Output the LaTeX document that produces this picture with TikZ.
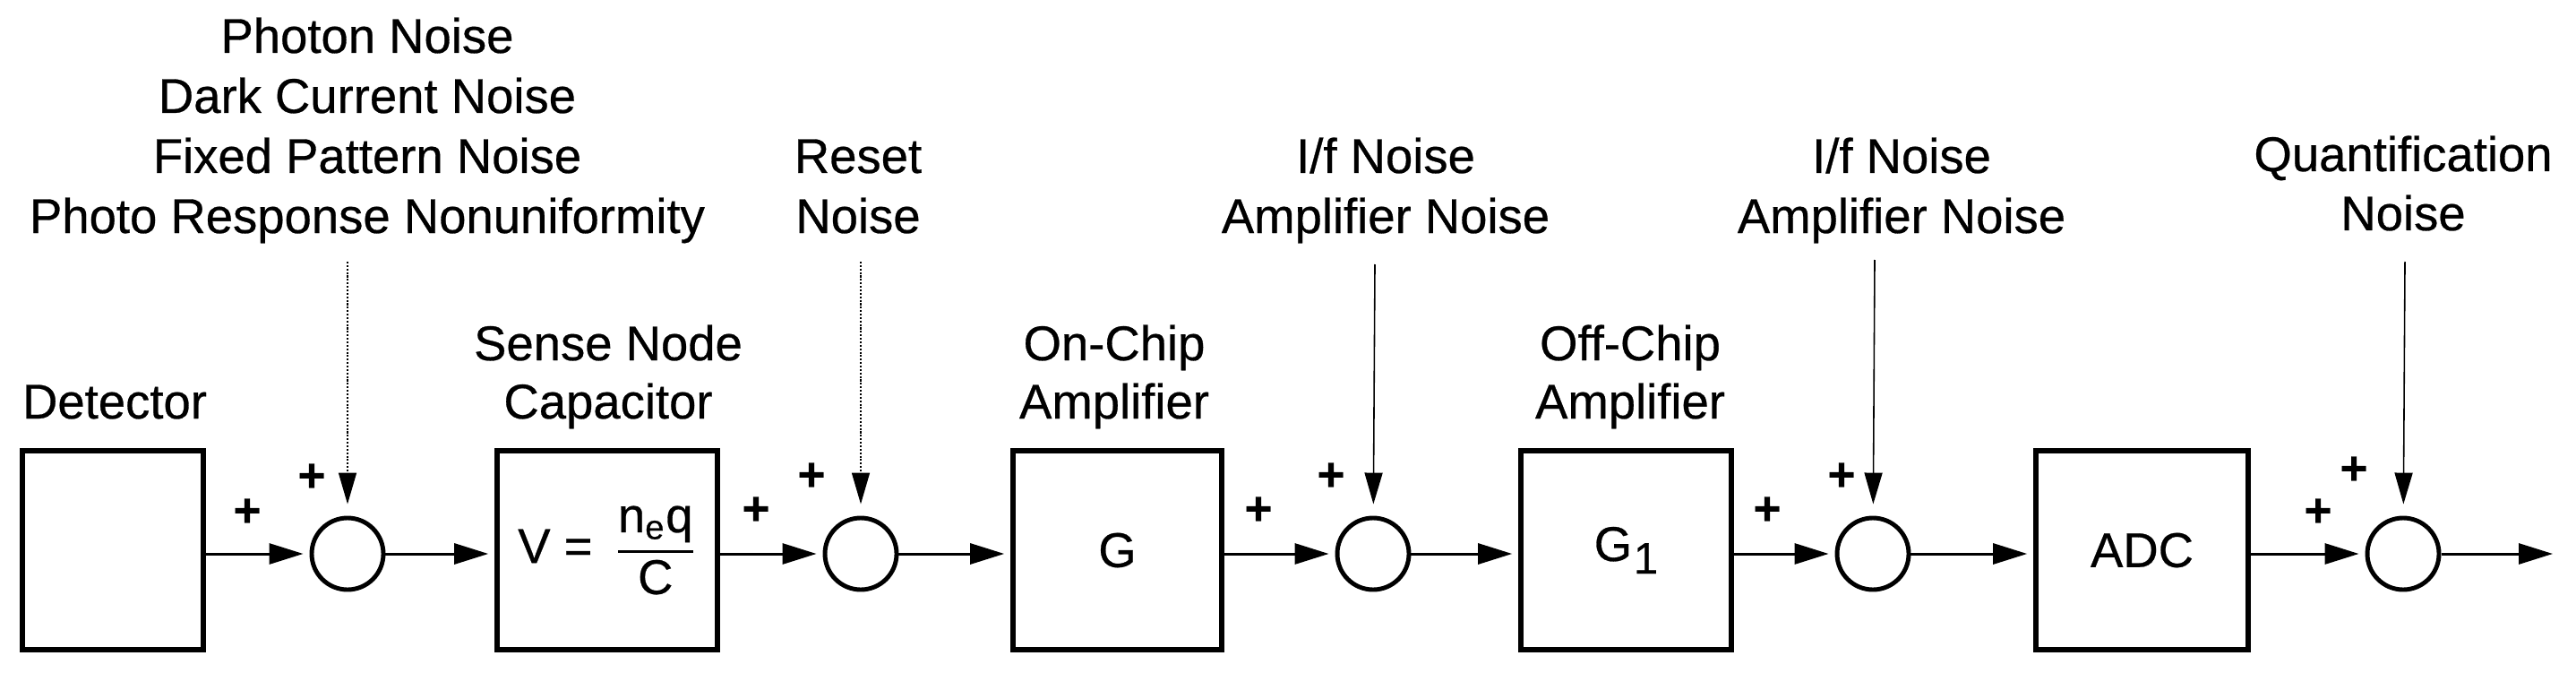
\documentclass[tikz,border=0pt]{standalone}
\usepackage{amsmath}
\usepackage{fontspec}
\setmainfont{Liberation Sans}[FakeBold=0.5]
\usetikzlibrary{arrows.meta}
\tikzset{
  lbl/.style={font=\fontsize{15.5}{18.8}\selectfont, inner sep=0pt, anchor=base},
  blk/.style={draw, line width=1.6pt, minimum height=2.22cm, inner sep=0pt,
              font=\fontsize{15.5}{18.8}\selectfont},
  sumj/.style={draw, circle, line width=1.4pt, minimum size=0.8cm, inner sep=0pt},
  sig/.style={line width=0.85pt, -{Triangle[length=0.38cm,width=0.23cm]}, shorten >=0.07cm},
  noisearr/.style={line width=0.45pt, -{Triangle[length=0.35cm,width=0.2cm]}, shorten >=0.13cm},
  faint/.style={dash pattern=on 0.6pt off 0.5pt},
  plus/.style={font=\fontsize{15}{15}\selectfont\bfseries, inner sep=0pt},
}
\begin{document}
\begin{tikzpicture}
\useasboundingbox[fill=white] (0,0) rectangle (28.76,7.5);

% blocks
\node[blk, minimum width=2.02cm] (det) at (1.26,1.36) {};
\node[blk, minimum width=2.46cm] (snc) at (6.78,1.36)
  {V = \,\(\dfrac{\text{n}_{\text{e}}\text{q}}{\text{C}}\)};
\node[blk, minimum width=2.33cm] (onchip) at (12.475,1.36) {G};
\node[blk, minimum width=2.35cm] (offchip) at (18.155,1.36)
  {G\kern0.5pt\raisebox{-4pt}{\fontsize{14}{14}\selectfont 1}};
\node[blk, minimum width=2.37cm] (adc) at (23.915,1.36) {ADC};

% summing junctions
\node[sumj] (s1) at (3.88,1.32) {};
\node[sumj] (s2) at (9.61,1.32) {};
\node[sumj] (s3) at (15.33,1.32) {};
\node[sumj] (s4) at (20.91,1.32) {};
\node[sumj] (s5) at (26.83,1.32) {};
\coordinate (out) at (28.57,1.32);

% signal path
\draw[sig] (det.east |- s1) -- (s1);
\draw[sig] (s1) -- (snc.west |- s1);
\draw[sig] (snc.east |- s2) -- (s2);
\draw[sig] (s2) -- (onchip.west |- s2);
\draw[sig] (onchip.east |- s3) -- (s3);
\draw[sig] (s3) -- (offchip.west |- s3);
\draw[sig] (offchip.east |- s4) -- (s4);
\draw[sig] (s4) -- (adc.west |- s4);
\draw[sig] (adc.east |- s5) -- (s5);
\draw[sig] (s5) -- (out);

% noise inputs
\coordinate (n1) at (3.88,4.58);
\coordinate (n2) at (9.61,4.58);
\coordinate (n3) at (15.35,4.55);
\coordinate (n4) at (20.93,4.60);
\coordinate (n5) at (26.85,4.58);
\draw[noisearr, faint] (n1) -- (s1);
\draw[noisearr, faint] (n2) -- (s2);
\draw[noisearr] (n3) -- (s3);
\draw[noisearr] (n4) -- (s4);
\draw[noisearr] (n5) -- (s5);

% noise labels
\node[lbl] (pn)   at (4.10,6.91) {Photon Noise};
\node[lbl] (dcn)  at (4.10,6.24) {Dark Current Noise};
\node[lbl] (fpn)  at (4.10,5.57) {Fixed Pattern Noise};
\node[lbl] (prnu) at (4.10,4.90) {Photo Response Nonuniformity};
\node[lbl] (rn1)  at (9.58,5.57) {Reset};
\node[lbl] (rn2)  at (9.58,4.90) {Noise};
\node[lbl] (fa1)  at (15.47,5.57) {I/f Noise};
\node[lbl] (fa2)  at (15.47,4.90) {Amplifier Noise};
\node[lbl] (fb1)  at (21.23,5.57) {I/f Noise};
\node[lbl] (fb2)  at (21.23,4.90) {Amplifier Noise};
\node[lbl] (qn1)  at (26.83,5.59) {Quantification};
\node[lbl] (qn2)  at (26.83,4.93) {Noise};

% block labels
\node[lbl] (detl) at (1.28,2.83) {Detector};
\node[lbl] (snl1) at (6.79,3.48) {Sense Node};
\node[lbl] (snl2) at (6.79,2.83) {Capacitor};
\node[lbl] (ocl1) at (12.44,3.48) {On-Chip};
\node[lbl] (ocl2) at (12.44,2.83) {Amplifier};
\node[lbl] (ofl1) at (18.20,3.48) {Off-Chip};
\node[lbl] (ofl2) at (18.20,2.83) {Amplifier};

% signs
\node[plus] (p1a) at (2.76,1.78) {+};
\node[plus] (p1b) at (3.48,2.17) {+};
\node[plus] (p2a) at (8.44,1.80) {+};
\node[plus] (p2b) at (9.06,2.18) {+};
\node[plus] (p3a) at (14.05,1.80) {+};
\node[plus] (p3b) at (14.86,2.18) {+};
\node[plus] (p4a) at (19.73,1.80) {+};
\node[plus] (p4b) at (20.56,2.18) {+};
\node[plus] (p5a) at (25.88,1.78) {+};
\node[plus] (p5b) at (26.28,2.25) {+};
\end{tikzpicture}
\end{document}
